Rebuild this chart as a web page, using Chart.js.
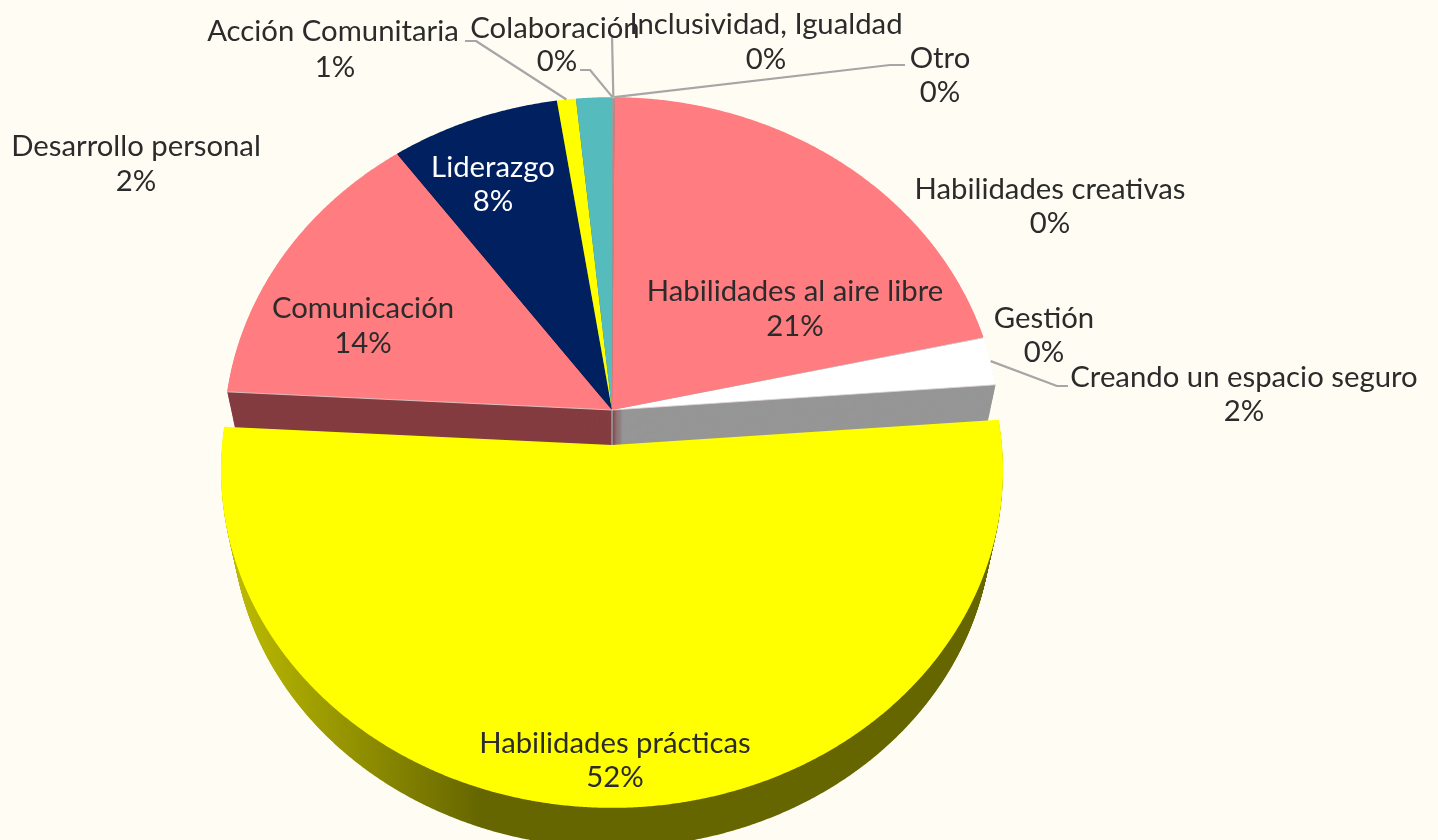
<!DOCTYPE html>
<html><head><meta charset="utf-8">
<style>html,body{margin:0;padding:0;background:#FFFDF3;overflow:hidden}canvas{display:block;filter:blur(0.5px)}</style>
<script src="https://cdn.jsdelivr.net/npm/chart.js@4"></script>
</head><body><canvas id="c" width="1438" height="840"></canvas>
<script>
const categories = ["Colaboración","Inclusividad, Igualdad","Otro","Habilidades al aire libre","Habilidades creativas","Gestión","Creando un espacio seguro","Habilidades prácticas","Comunicación","Liderazgo","Acción Comunitaria","Desarrollo personal"];
const values = [0.04,0.04,0.04,21.4,0.02,0.02,2.3,52.2,14.15,7.6,0.85,1.6];
const faceColors = ["#A6A6A6","#A6A6A6","#A6A6A6","#FF7C80","#FFFFFF","#FFFFFF","#FFFFFF","#FFFF00","#FF7C80","#002060","#FFFF00","#55BBBD"];
const wallColors = ["#666","#666","#666","#843C40","#969696","#969696","#969696","#666600","#843C40","#001030","#666600","#2f7072"];

// layout of the text and leader lines (not data)
const textLayout = [
 {i:0,x:555,y:29,py:62,px:557},{i:1,x:766,y:25,py:60},{i:2,x:940,y:59,py:93},
 {i:3,x:795,y:292,py:327},{i:4,x:1050,y:190,py:224},{i:5,x:1044,y:319,py:353},
 {i:6,x:1244,y:378,py:412},{i:7,x:615,y:744,py:778},{i:8,x:363,y:309,py:344},
 {i:9,x:493,y:168,py:202,color:"#FFFFFF"},{i:10,x:333,y:32,py:68,px:335},{i:11,x:136,y:147,py:182}
];
const leaders = [
 {i:0,via:[[590,70],[580,70]]},{i:1,via:[[612,35]]},{i:2,via:[[890,65],[905,65]]},
 {i:6,via:[[1057,386],[1068,386]]},{i:10,via:[[476,41],[465,41]]}
];
const wallOrder = [3,9,10,11,0,1,2,4,5,6,8];
const FONT = '29.3px Lato';
const TEXT = '#2B2B2B';
const PERSP = 0.074, HX_BACK = 387/336, HX_FRONT = 390/336, EXPLODE = 35, DEPTH = 50, SHRINK = 0.028, FRONT = 7;

function project(el, angle, hx, dy, t){
  const X = Math.cos(angle), Y = -Math.sin(angle), w = 1 + PERSP*Y;
  const s = 1 - SHRINK*t, R = el.outerRadius;
  return [el.x + s*hx*R*X/w, el.y + dy + DEPTH*t - s*R*Y/w];
}
function slicePath(ctx, el, hx, dy, t){
  const a0 = el.startAngle, a1 = el.endAngle, n = Math.max(2, Math.ceil((a1-a0)/0.005));
  ctx.beginPath();
  ctx.moveTo(el.x, el.y + dy + DEPTH*t);
  for(let k=0;k<=n;k++){
    const p = project(el, a0+(a1-a0)*k/n, hx, dy, t);
    ctx.lineTo(p[0],p[1]);
  }
  ctx.closePath();
}
const pie3d = {
  id:'pie3d',
  beforeDatasetDraw(chart,args){
    const ctx = chart.ctx, arcs = args.meta.data;
    ctx.save();
    // back walls
    wallOrder.forEach(i=>{
      ctx.fillStyle = wallColors[i];
      for(let d=DEPTH;d>0;d--){ slicePath(ctx,arcs[i],HX_BACK,0,d/DEPTH); ctx.fill(); }
    });
    // back tops
    arcs.forEach((el,i)=>{
      if(i===FRONT) return;
      ctx.fillStyle = el.options.backgroundColor;
      slicePath(ctx,el,HX_BACK,0,0); ctx.fill();
    });
    // light edges along the cut faces
    const el = arcs[FRONT];
    ctx.strokeStyle='rgba(225,215,215,.8)'; ctx.lineWidth=1;
    const ra = project(el,el.startAngle,HX_BACK,0,0), rb = project(el,el.endAngle,HX_BACK,0,0);
    ctx.beginPath(); ctx.moveTo(ra[0],ra[1]); ctx.lineTo(el.x,el.y); ctx.lineTo(rb[0],rb[1]); ctx.moveTo(el.x,el.y); ctx.lineTo(el.x,el.y+EXPLODE); ctx.stroke();
    // front slice
    const g = ctx.createLinearGradient(232,0,480,0);
    g.addColorStop(0,'#BDBB00'); g.addColorStop(1,wallColors[FRONT]);
    ctx.fillStyle = g;
    for(let d=DEPTH;d>0;d--){ slicePath(ctx,el,HX_FRONT,EXPLODE,d/DEPTH); ctx.fill(); }
    ctx.fillStyle = el.options.backgroundColor;
    slicePath(ctx,el,HX_FRONT,EXPLODE,0); ctx.fill();
    ctx.restore();
    return false;
  },
  afterDraw(chart){
    const ctx = chart.ctx, arcs = chart.getDatasetMeta(0).data;
    ctx.save();
    ctx.strokeStyle='#A6A6A6'; ctx.lineWidth=2.2; ctx.lineJoin='round';
    leaders.forEach(l=>{
      const el=arcs[l.i], p=project(el,(el.startAngle+el.endAngle)/2,HX_BACK,0,0);
      ctx.beginPath(); ctx.moveTo(p[0],p[1]); l.via.forEach(v=>ctx.lineTo(v[0],v[1])); ctx.stroke();
    });
    const total = values.reduce((a,b)=>a+b,0);
    ctx.font = FONT; ctx.textAlign='center'; ctx.textBaseline='middle';
    textLayout.forEach(t=>{
      ctx.fillStyle = t.color||TEXT;
      ctx.fillText(categories[t.i], t.x, t.y);
      ctx.fillText(Math.round(values[t.i]/total*100)+'%', t.px||t.x, t.py);
    });
    ctx.restore();
  }
};
new Chart(document.getElementById('c'),{
  type:'pie',
  data:{labels:categories,datasets:[{data:values,backgroundColor:faceColors,borderWidth:0,clip:false}]},
  options:{responsive:false,animation:false,events:[],
    layout:{padding:{left:276,top:74,right:490,bottom:94}},
    plugins:{legend:{display:false},tooltip:{enabled:false}}},
  plugins:[pie3d]
});
</script></body></html>
